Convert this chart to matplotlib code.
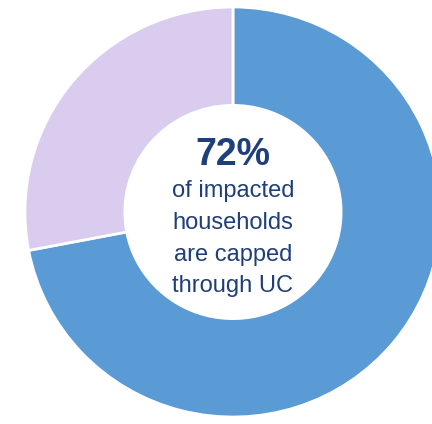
import matplotlib
matplotlib.use("Agg")
import matplotlib.pyplot as plt

labels = ["Capped through UC", "Other"]
values = [72, 28]
colors = ["#5B9BD5", "#D9CCEE"]
headline = "72%"
body_lines = ["of impacted", "households", "are capped", "through UC"]

plt.rcParams['font.family'] = ['Liberation Sans', 'DejaVu Sans']

fig = plt.figure(figsize=(4.32, 4.24), dpi=100)
ax = fig.add_axes([0, 0, 1, 1])
ax.pie(values, colors=colors, startangle=90, counterclock=False, radius=1.0,
       wedgeprops=dict(width=0.48, edgecolor="white", linewidth=2))
ax.set_xlim(-1.120, 0.957)
ax.set_ylim(-1.034, 1.034)
ax.set_aspect('auto')
ax.axis('off')

navy = "#1F3F7A"
ax.text(0, 0.229, headline, ha='center', va='baseline', fontsize=27,
        fontweight='bold', color=navy)
baselines = [0.073, -0.083, -0.239, -0.390]
for line, y in zip(body_lines, baselines):
    ax.text(0, y, line, ha='center', va='baseline', fontsize=17, color=navy)

fig.savefig("out.png", dpi=100)
